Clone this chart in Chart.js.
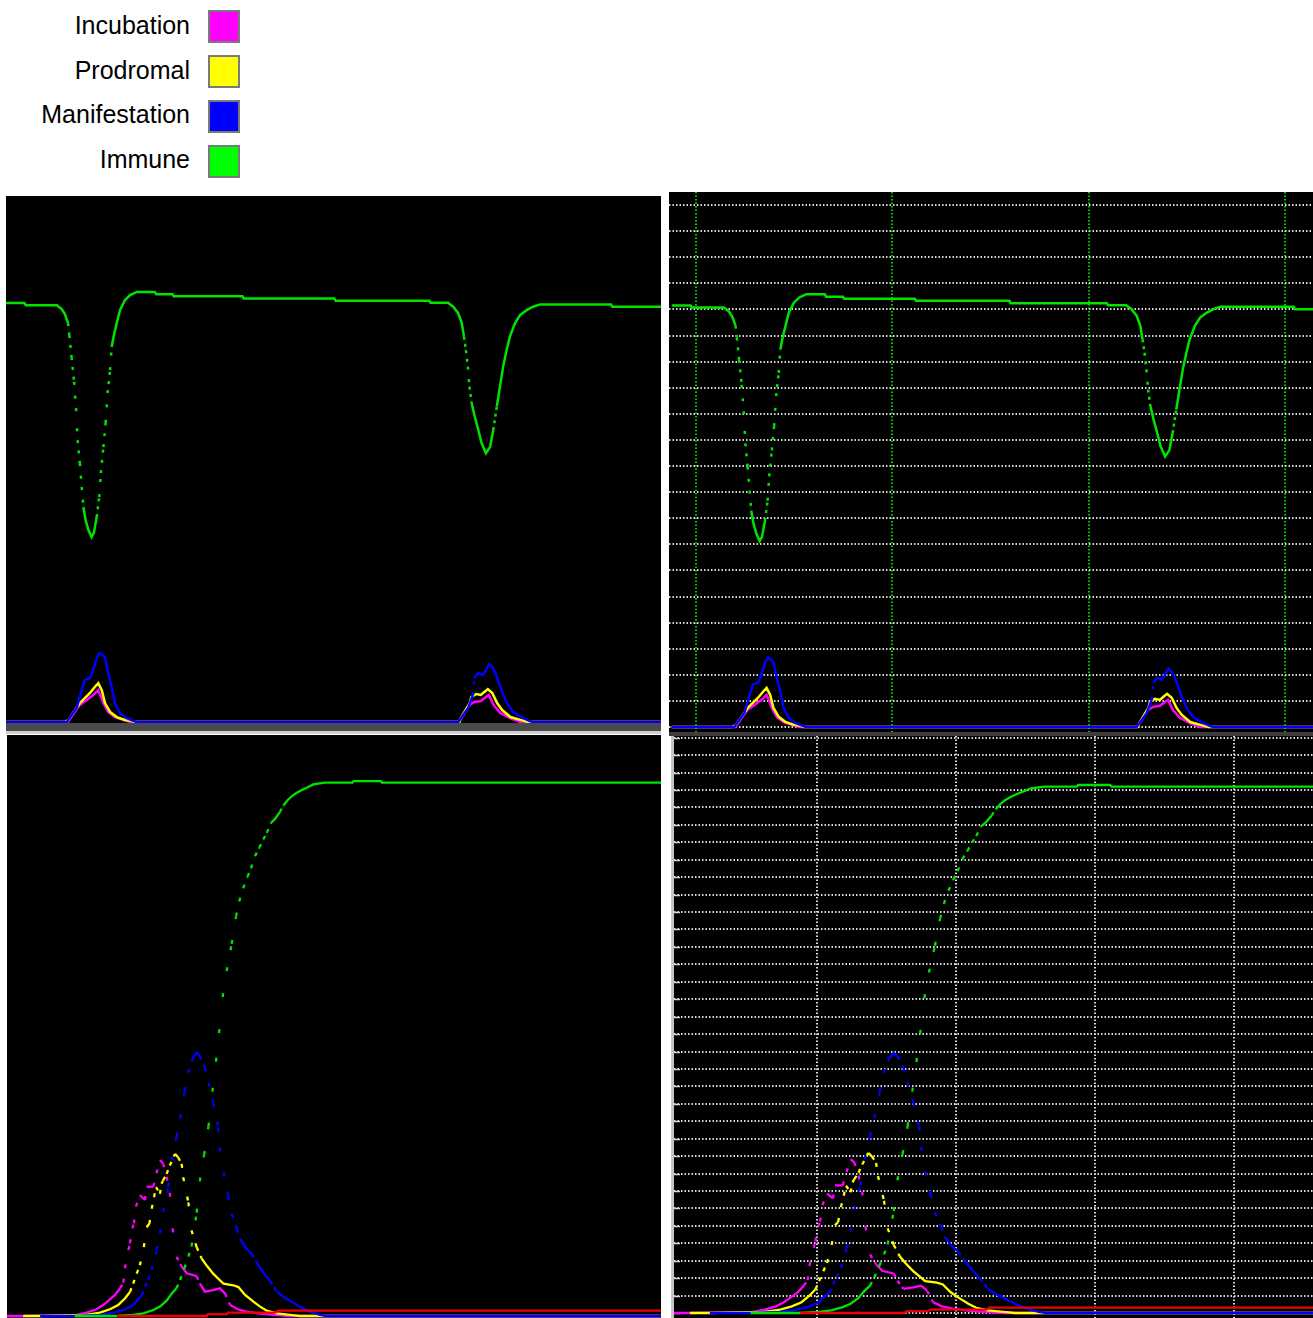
<!DOCTYPE html>
<html>
<head>
<meta charset="utf-8">
<title>Disease stages</title>
<script src="https://cdn.jsdelivr.net/npm/chart.js@4.4.1/dist/chart.umd.min.js"></script>
<style>
  html, body { margin: 0; padding: 0; background: #fff; }
  body { position: relative; width: 1313px; height: 1318px; overflow: hidden; font-family: "Liberation Sans", Arial, sans-serif; }
  .key-text { position: absolute; left: 0; width: 190px; text-align: right; font-size: 25px; line-height: 25px; color: #000; white-space: nowrap; }
  .key-box { position: absolute; left: 208px; width: 32px; height: 33px; box-sizing: border-box; border: 2px solid #7a7a7a; }
  .panel { position: absolute; background: #000; }
  .panel canvas { display: block; }
  .band { position: absolute; }
</style>
</head>
<body>

<div id="legend"></div>

<div class="panel" style="left:6px;top:196px;width:655px;height:527px"><canvas id="topLeft" width="655" height="527"></canvas></div>
<div class="band" style="left:6px;top:723px;width:655px;height:8px;background:#4a4a4a"></div>
<div class="band" style="left:6px;top:731px;width:655px;height:3px;background:#cfcfcf"></div>

<div class="panel" style="left:669px;top:192px;width:644px;height:540px"><canvas id="topRight" width="644" height="540"></canvas></div>
<div class="band" style="left:669px;top:732px;width:644px;height:4px;background:#3c3c3c"></div>

<div class="panel" style="left:7px;top:735px;width:654px;height:583px"><canvas id="bottomLeft" width="654" height="583"></canvas></div>

<div class="band" style="left:671px;top:736px;width:3px;height:582px;background:#c4c4c4"></div>
<div class="panel" style="left:674px;top:736px;width:639px;height:582px"><canvas id="bottomRight" width="639" height="582"></canvas></div>

<script>
// legend
const stageNames = ['Incubation', 'Prodromal', 'Manifestation', 'Immune'];
const stageColors = ['#ff00ff', '#ffff00', '#0000ff', '#00ff00'];
const lineColors = { incubation: '#ff00ff', prodromal: '#ffff00', manifestation: '#0000ff', immune: '#00e400', dead: '#f00000' };

// top charts: one outbreak wave after another (day, level)
const topImmuneDays = [0, 5.8, 6.2, 16.0, 17.5, 18.5, 19.5, 19.9, 20.6, 21.4, 22.0, 22.5, 23.2, 23.8, 24.3, 25.0, 25.9, 26.9, 27.6, 28.5, 29.3, 29.8, 30.6, 31.3, 31.9, 32.7, 33.2, 33.9, 34.8, 35.8, 37.4, 39.0, 41.1, 46.8, 47.2, 52.3, 52.7, 74.3, 74.7, 103.2, 103.6, 133.0, 133.4, 138.9, 140.5, 142.1, 143.2, 143.9, 144.5, 145.1, 145.6, 146.3, 147.3, 148.4, 149.4, 150.8, 152.1, 153.1, 154.2, 155.2, 156.2, 157.3, 158.3, 159.9, 161.5, 163.6, 165.6, 167.8, 190.1, 190.5, 205.8];
const topImmune = [161.5, 161.5, 160.7, 160.7, 159.2, 157.3, 153.8, 149.2, 140.7, 131.1, 121.0, 108.7, 99.8, 90.6, 82.9, 77.9, 74.0, 71.3, 72.9, 79.0, 86.7, 96.0, 106.0, 115.3, 126.8, 135.7, 144.6, 149.2, 153.8, 158.8, 162.7, 164.6, 165.8, 165.8, 164.9, 164.9, 164.1, 164.1, 163.3, 163.3, 162.4, 162.4, 161.6, 161.6, 160.1, 157.6, 153.8, 148.5, 143.4, 137.0, 129.3, 123.0, 117.7, 112.6, 107.6, 103.6, 106.1, 112.6, 121.6, 129.3, 137.0, 143.4, 148.5, 153.7, 156.9, 158.8, 160.1, 161.0, 161.0, 160.1, 160.1];

const topManifestDays = [0, 19.1, 22.2, 23.8, 24.8, 26.4, 27.4, 28.5, 29.5, 31.1, 32.1, 33.2, 34.2, 35.8, 37.9, 40.0, 41.0, 142.1, 145.2, 146.7, 147.2, 148.2, 149.8, 150.8, 151.8, 152.8, 153.8, 154.8, 155.9, 157.4, 159.4, 162.0, 164.4, 165.5, 205.8];
const topManifest = [0, 0, 5.4, 12.3, 16.2, 17.0, 20.0, 24.7, 26.6, 25.0, 18.9, 13.5, 7.3, 3.5, 1.5, 0.4, 0, 0, 5.4, 10.4, 16.9, 18.8, 18.1, 20.0, 22.3, 21.2, 18.8, 15.4, 11.5, 7.3, 3.8, 1.9, 0.4, 0, 0];

const topProdromalDays = [0, 18.5, 19.6, 23.2, 26.4, 27.9, 29.0, 30.1, 31.1, 32.7, 34.8, 37.4, 39.5, 40.5, 142.5, 142.9, 145.7, 146.2, 147.7, 149.2, 150.2, 151.4, 152.8, 154.3, 155.9, 158.5, 161.6, 164.0, 205.8];
const topProdromal = [0, 0, 0.8, 7.3, 11.2, 13.5, 15.0, 12.3, 7.3, 3.9, 1.9, 0.8, 0.4, 0, 0, 1.5, 7.3, 9.6, 10.8, 10.4, 11.5, 12.7, 11.2, 7.3, 4.6, 1.9, 0.8, 0, 0];

const topIncubationDays = [0, 19.5, 20.1, 23.2, 25.4, 27.4, 29.0, 30.6, 32.1, 34.2, 36.8, 39.0, 142.0, 142.4, 143.9, 145.6, 147.1, 149.2, 150.8, 151.7, 153.2, 155.3, 158.4, 161.5, 205.8];
const topIncubation = [0, 0, 1.2, 6.6, 8.5, 10.4, 12.3, 7.3, 3.9, 1.9, 0.8, 0, 0, 0.5, 3.0, 6.5, 7.7, 8.1, 9.6, 10.4, 6.5, 3.5, 1.5, 0, 0];

// bottom charts: a single large outbreak (day, count)
const botImmuneDays = [17.2, 27.9, 32.0, 34.6, 37.1, 38.8, 40.5, 41.8, 43.0, 43.9, 45.0, 46.0, 46.8, 48.1, 48.9, 50.0, 51.1, 52.1, 53.0, 53.8, 54.7, 55.7, 57.0, 58.1, 58.9, 59.9, 61.0, 61.9, 62.9, 64.0, 65.0, 65.9, 67.0, 68.0, 69.2, 70.1, 71.1, 72.2, 73.5, 74.7, 76.0, 77.7, 80.6, 87.6, 87.9, 94.8, 95.1, 165.9];
const botImmune = [0, 0, 0.6, 1.5, 3.4, 5.3, 8.7, 12.8, 15.7, 20.4, 27.0, 33.6, 39.3, 58.5, 76.2, 91.2, 107.2, 127.0, 144.0, 160.2, 180.6, 195.3, 210.7, 226.2, 234.7, 242.2, 248.8, 253.5, 260.4, 265.1, 269.8, 273.6, 279.3, 281.5, 285.3, 289.0, 291.9, 294.3, 296.3, 297.7, 299.1, 301.0, 302.0, 302.0, 302.9, 302.9, 302.0, 302.0];

const botManifestDays = [8.4, 17.2, 23.6, 27.0, 29.5, 32.0, 34.2, 35.0, 35.8, 36.7, 38.0, 38.8, 39.6, 40.9, 41.8, 43.0, 43.9, 45.1, 45.9, 47.2, 48.1, 48.9, 50.2, 51.1, 52.3, 53.6, 54.0, 54.9, 56.1, 57.0, 58.3, 59.1, 60.8, 62.1, 63.3, 65.0, 66.7, 68.4, 70.1, 72.2, 74.3, 76.8, 79.4, 81.0, 165.9];
const botManifest = [0, 0, 0.6, 1.9, 3.4, 6.2, 11.9, 16.6, 20.4, 26.0, 37.4, 46.8, 59.1, 73.2, 88.3, 101.5, 111.9, 127.4, 137.8, 146.3, 149.2, 147.3, 140.7, 132.2, 120.9, 106.7, 95.4, 81.3, 68.1, 57.8, 49.3, 43.6, 38.0, 35.1, 30.4, 24.7, 20.0, 13.8, 10.9, 8.1, 5.3, 2.5, 0.6, 0, 0];

const botProdromalDays = [4.1, 8.4, 20.2, 23.6, 26.1, 28.2, 29.9, 31.2, 32.0, 32.9, 33.7, 34.7, 35.4, 36.1, 36.7, 37.3, 37.8, 38.8, 39.2, 39.6, 40.5, 41.3, 42.6, 43.4, 44.3, 44.7, 46.0, 46.8, 48.1, 49.4, 50.6, 52.3, 53.6, 54.9, 57.4, 58.7, 60.4, 62.5, 64.2, 65.9, 68.4, 71.8, 74.3, 165.9];
const botProdromal = [0, 0, 0.6, 1.9, 3.8, 6.2, 9.9, 13.6, 18.3, 24.0, 28.7, 39.0, 50.3, 52.2, 60.7, 67.3, 73.0, 69.2, 74.9, 76.8, 80.5, 85.2, 91.8, 89.9, 86.1, 78.6, 64.4, 48.5, 39.0, 32.5, 28.7, 24.0, 21.1, 18.3, 17.4, 16.4, 11.9, 8.1, 5.3, 3.0, 1.5, 0.6, 0, 0];

const botIncubationDays = [0, 4.1, 17.7, 20.2, 22.7, 24.4, 26.1, 27.4, 28.7, 29.5, 29.9, 30.8, 31.2, 31.8, 32.2, 32.7, 33.7, 35.0, 35.4, 37.1, 37.9, 38.8, 39.6, 40.5, 41.3, 42.0, 43.0, 44.3, 45.6, 48.1, 48.9, 50.2, 52.3, 54.0, 55.3, 56.6, 58.5, 60.8, 63.7, 67.5, 71.8, 165.9];
const botIncubation = [0, 0, 0.6, 1.9, 3.8, 6.2, 9.4, 11.9, 15.7, 18.9, 27.0, 37.4, 41.2, 49.6, 52.4, 61.9, 68.5, 65.7, 73.2, 73.2, 80.8, 88.3, 86.4, 78.8, 69.8, 49.6, 33.6, 28.0, 24.2, 22.6, 18.5, 13.8, 14.7, 15.7, 12.8, 6.2, 3.8, 2.5, 1.5, 0.6, 0, 0];

const botDeadDays = [27.9, 50.5, 50.7, 55.6, 55.8, 68.3, 68.5, 165.9];
const botDead = [0, 0, 1.0, 1.0, 1.9, 1.9, 3.1, 3.1];

// grid positions of the two right-hand views
const topTimeGrid = [7.4, 67.4, 127.4, 187.4];
const topLevelGrid = [0, 10, 20, 30, 40, 50, 60, 70, 80, 90, 100, 110, 120, 130, 140, 150, 160, 170, 180, 190, 200];
const botTimeGrid = [31.5, 61.5, 91.5, 121.5];
const botLevelGrid = [0, 10, 20, 30, 40, 50, 60, 70, 80, 90, 100, 110, 120, 130, 140, 150, 160, 170, 180, 190, 200, 210, 220, 230, 240, 250, 260, 270, 280, 290, 300, 310, 320, 330];

// legend
const legend = document.getElementById('legend');
stageNames.forEach((name, i) => {
  const t = document.createElement('div');
  t.className = 'key-text';
  t.style.top = (13 + i * 44.7) + 'px';
  t.textContent = name;
  legend.appendChild(t);
  const b = document.createElement('div');
  b.className = 'key-box';
  b.style.top = (9.5 + i * 45) + 'px';
  b.style.background = stageColors[i];
  legend.appendChild(b);
});

function pts(days, vals) {
  return days.map((d, i) => ({ x: d, y: vals[i] }));
}

// the original plots one short run per day, so steep stretches fall apart into dashes
function stepDash(dayPx, dash) {
  return ctx => {
    const dx = Math.max(Math.abs(ctx.p1.x - ctx.p0.x), 0.01);
    const dy = Math.abs(ctx.p1.y - ctx.p0.y);
    const pitch = Math.hypot(dayPx, dy / dx * dayPx);
    return pitch > dash + 3.5 ? [dash, pitch - dash] : undefined;
  };
}

function series(days, vals, color, width, dayPx, dash) {
  return {
    data: pts(days, vals),
    borderColor: color,
    borderWidth: width,
    pointRadius: 0,
    tension: 0,
    fill: false,
    borderCapStyle: 'butt',
    segment: { borderDash: stepDash(dayPx, dash) }
  };
}

function topSets(dayPx) {
  return [
    series(topManifestDays, topManifest, lineColors.manifestation, 2.5, dayPx, 3),
    series(topProdromalDays, topProdromal, lineColors.prodromal, 2.5, dayPx, 3),
    series(topIncubationDays, topIncubation, lineColors.incubation, 2.5, dayPx, 3),
    series(topImmuneDays, topImmune, lineColors.immune, 2.5, dayPx, 3)
  ];
}

function bottomSets(dayPx) {
  return [
    series(botDeadDays, botDead, lineColors.dead, 2.3, dayPx, 4),
    series(botImmuneDays, botImmune, lineColors.immune, 2.3, dayPx, 4),
    series(botManifestDays, botManifest, lineColors.manifestation, 2.3, dayPx, 4),
    series(botProdromalDays, botProdromal, lineColors.prodromal, 2.3, dayPx, 4),
    series(botIncubationDays, botIncubation, lineColors.incubation, 2.3, dayPx, 4)
  ];
}

function axis(min, max, grid, color) {
  if (!grid) return { type: 'linear', min: min, max: max, display: false };
  return {
    type: 'linear',
    min: min,
    max: max,
    ticks: { display: false },
    grid: { color: color, lineWidth: 2, drawTicks: false },
    border: { display: false, dash: [1.5, 2] },
    afterBuildTicks: s => { s.ticks = grid.map(v => ({ value: v })); }
  };
}

// short solid marks on the left edge of the lower right view
const edgeTicks = {
  id: 'edgeTicks',
  beforeDatasetsDraw(chart) {
    const { ctx, chartArea, scales } = chart;
    ctx.save();
    ctx.strokeStyle = '#d8d8d8';
    ctx.lineWidth = 1.5;
    scales.y.ticks.forEach(t => {
      const py = Math.round(scales.y.getPixelForValue(t.value)) + 0.5;
      ctx.beginPath();
      ctx.moveTo(chartArea.left, py);
      ctx.lineTo(chartArea.left + 6, py);
      ctx.stroke();
    });
    ctx.restore();
  }
};

function makeChart(id, datasets, x, y, plugins) {
  return new Chart(document.getElementById(id), {
    type: 'line',
    data: { datasets: datasets },
    options: {
      responsive: false,
      animation: false,
      devicePixelRatio: 1,
      events: [],
      layout: { padding: 0 },
      plugins: { legend: { display: false }, tooltip: { enabled: false } },
      scales: { x: x, y: y }
    },
    plugins: plugins || []
  });
}

makeChart('topLeft', topSets(1), axis(0, 205.8), axis(-0.39, 202.8));
makeChart('topRight', topSets(1),
  axis(-0.83, 196.0, topTimeGrid, '#00c800'),
  axis(-1.92, 205.0, topLevelGrid, '#d8d8d8'));
makeChart('bottomLeft', bottomSets(3.94), axis(0, 165.9), axis(-1.13, 329.0));
makeChart('bottomRight', bottomSets(4.63),
  axis(0.67, 138.6, botTimeGrid, '#d8d8d8'),
  axis(-2.87, 331.0, botLevelGrid, '#d8d8d8'), [edgeTicks]);
</script>
</body>
</html>
